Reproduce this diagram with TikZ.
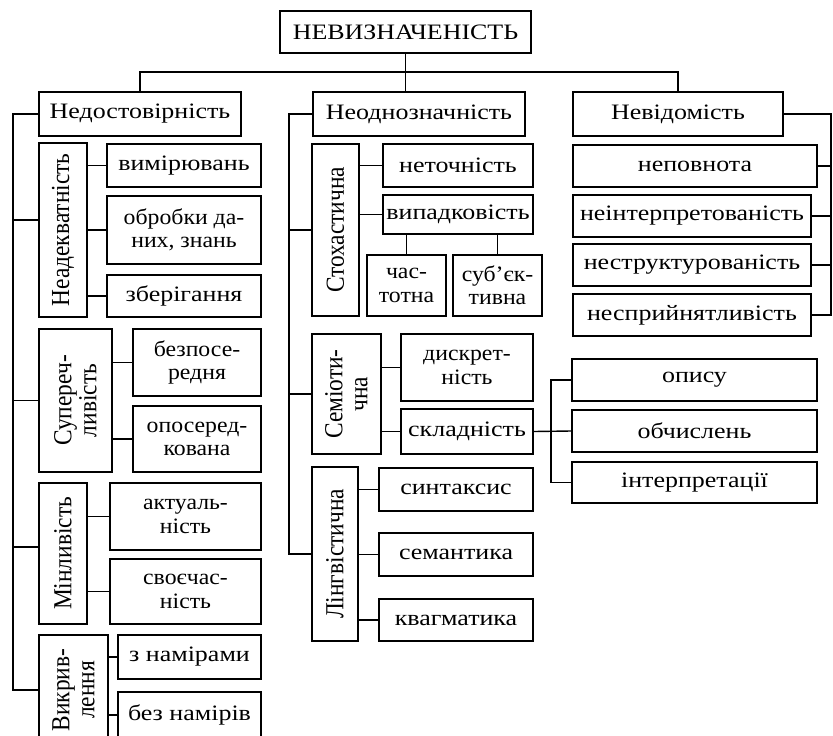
\documentclass[tikz,border=0pt]{standalone}
\usepackage{fontspec}
\setmainfont{Liberation Serif}
\newfontfamily\hwide[FakeStretch=1.18]{Liberation Serif}
\newfontfamily\hnarrow[FakeStretch=1.08]{Liberation Serif}
\newfontfamily\vtext[FakeStretch=0.9]{Liberation Serif}
\begin{document}
\begin{tikzpicture}[x=1pt,y=-1pt,line width=1.4pt,
    box/.style={draw,inner sep=0pt,align=center,font=\hwide\fontsize{22}{23}\selectfont},
    box2/.style={box,font=\hnarrow\fontsize{22}{23.3}\selectfont},
    vbox/.style={box,rotate=90,font=\vtext\fontsize{26}{25}\selectfont},
    boxsize/.style 2 args={minimum width=#1pt,minimum height=#2pt}]
  \useasboundingbox (0,0) rectangle (833,736);
  \clip (0,0) rectangle (833,736);
  % top level
  \node[box,boxsize={251}{42}] (top) at (405.5,32) {НЕВИЗНАЧЕНІСТЬ};
  \node[box,boxsize={202}{44}] (nedost) at (140,114) {Недостовірність};
  \node[box,boxsize={212}{44}] (neodn) at (419,114) {Неоднозначність};
  \node[box,boxsize={210}{44}] (nevid) at (678,114) {Невідомість};
  \coordinate (bus) at (405.5,72);
  \draw (top.south) -- (top.south |- neodn.north);
  \draw (nedost.north) |- (bus) -| (nevid.north);
  % left column
  \coordinate (spA) at (13,114);
  \node[vbox,boxsize={174}{48}] (neadek) at (63,230) {Неадекватність};
  \node[box,boxsize={154}{43}] (vymir) at (184,165.5) {вимірювань};
  \node[box2,boxsize={154}{68}] (obrob) at (184,230) {обробки да-\\них, знань};
  \node[box,boxsize={154}{42}] (zberig) at (184,296) {зберігання};
  \node[vbox,boxsize={143}{73}] (super) at (75.5,400.5) {Супереч-\\ливість};
  \node[box2,boxsize={128}{67}] (bezpos) at (197,362.5) {безпосе-\\редня};
  \node[box2,boxsize={128}{66}] (oposer) at (197,439) {опосеред-\\кована};
  \node[vbox,boxsize={141}{48}] (minl) at (63,553.5) {Мінливість};
  \node[box2,boxsize={151}{67}] (aktual) at (185.5,516.5) {актуаль-\\ність};
  \node[box2,boxsize={151}{65}] (svoech) at (185.5,591.5) {своєчас-\\ність};
  \node[vbox,boxsize={110}{69}] (vykr) at (73.5,690) {Викрив-\\лення};
  \node[box,boxsize={143}{44}] (znamir) at (189.5,657) {з намірами};
  \node[box,boxsize={143}{46}] (beznam) at (189.5,715) {без намірів};
  \draw (nedost.west) -- (spA) |- (vykr.north);
  \draw (spA) |- ([yshift=10pt]neadek.north);
  \draw (spA) |- (super.north);
  \draw (spA) |- ([yshift=6.5pt]minl.north);
  \foreach \n in {vymir,obrob,zberig}
    \draw (\n.west) -- (\n.west -| neadek.south);
  \foreach \n in {bezpos,oposer}
    \draw (\n.west) -- (\n.west -| super.south);
  \foreach \n in {aktual,svoech}
    \draw (\n.west) -- (\n.west -| minl.south);
  \foreach \n in {znamir,beznam}
    \draw (\n.west) -- (\n.west -| vykr.south);
  % middle column
  \coordinate (spB) at (289,114);
  \node[vbox,boxsize={172}{47}] (stoch) at (335.5,230) {Стохастична};
  \node[box,boxsize={150}{43}] (netoch) at (458,165.5) {неточність};
  \node[box,boxsize={150}{39}] (vypad) at (458,214.5) {випадковість};
  \node[box2,boxsize={79}{61}] (chast) at (406.5,285.5) {час-\\тотна};
  \node[box2,boxsize={89}{61}] (subj) at (497.5,285.5) {суб’єк-\\тивна};
  \node[vbox,boxsize={120}{69}] (semiot) at (346.5,394) {Семіоти-\\чна};
  \node[box2,boxsize={132}{67}] (dyskr) at (467,367.5) {дискрет-\\ність};
  \node[box,boxsize={132}{45}] (skladn) at (467,431.5) {складність};
  \node[vbox,boxsize={174}{46}] (lingv) at (335,554) {Лінгвістична};
  \node[box,boxsize={154}{43}] (syntax) at (456,489.5) {синтаксис};
  \node[box,boxsize={154}{43}] (semant) at (456,554.5) {семантика};
  \node[box,boxsize={154}{42}] (kvagm) at (456,620) {квагматика};
  \draw (neodn.west) -- (spB) |- (lingv.north);
  \draw (spB) |- (stoch.north);
  \draw (spB) |- (semiot.north);
  \foreach \n in {netoch,vypad}
    \draw (\n.west) -- (\n.west -| stoch.south);
  \foreach \n in {chast,subj}
    \draw (\n.north) -- (\n.north |- vypad.south);
  \foreach \n in {dyskr,skladn}
    \draw (\n.west) -- (\n.west -| semiot.south);
  \foreach \n in {syntax,semant,kvagm}
    \draw (\n.west) -- (\n.west -| lingv.south);
  % complexity
  \coordinate (brk) at (551,432);
  \node[box,boxsize={245}{42}] (opysu) at (694.5,380) {опису};
  \node[box,boxsize={245}{42}] (obch) at (694.5,431) {обчислень};
  \node[box,boxsize={245}{41}] (interp) at (694.5,482.5) {інтерпретації};
  \draw (skladn.east) -- (obch.west);
  \draw (opysu.west) -| (brk) |- (interp.west);
  % right column
  \coordinate (spC) at (831,114);
  \node[box,boxsize={244}{42}] (nepovn) at (695,166) {неповнота};
  \node[box,boxsize={238}{42}] (neint) at (692,216) {неінтерпретованість};
  \node[box,boxsize={238}{42}] (nestr) at (692,265) {неструктурованість};
  \node[box,boxsize={238}{42}] (nesprj) at (692,315) {несприйнятливість};
  \draw (nevid.east) -- (spC) |- (nesprj.east);
  \foreach \n in {nepovn,neint,nestr}
    \draw (\n.east) -- (spC |- \n.east);
\end{tikzpicture}
\end{document}
